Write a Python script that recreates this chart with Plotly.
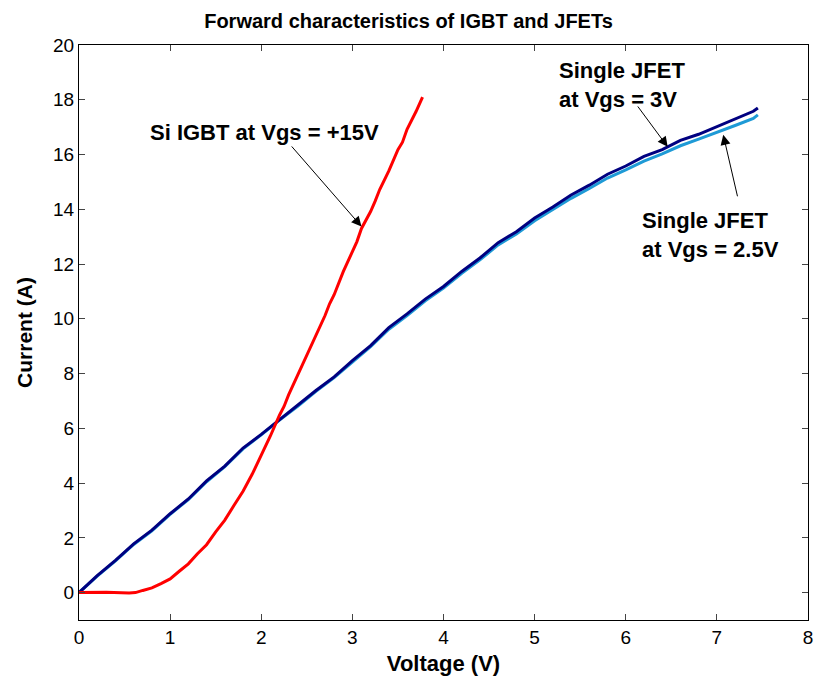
import plotly.graph_objects as go

# IGBT forward curve at Vgs = +15V
igbt_v = [0, 0.3, 0.55, 0.62, 0.7, 0.8, 0.9, 1.0, 1.1, 1.2, 1.3, 1.4, 1.5, 1.6, 1.7, 1.8,
          1.9, 2.0, 2.1, 2.2, 2.25, 2.3, 2.4, 2.45, 2.5, 2.6, 2.7, 2.75, 2.8, 2.9, 3.0,
          3.05, 3.1, 3.2, 3.25, 3.3, 3.4, 3.5, 3.55, 3.6, 3.7, 3.77]
igbt_i = [0, 0.01, -0.01, 0.0, 0.08, 0.17, 0.33, 0.5, 0.78, 1.05, 1.42, 1.75, 2.22, 2.65,
          3.18, 3.7, 4.32, 5.0, 5.72, 6.48, 6.8, 7.22, 7.95, 8.25, 8.68, 9.38, 10.12, 10.55,
          10.88, 11.72, 12.5, 12.82, 13.3, 13.92, 14.3, 14.72, 15.4, 16.18, 16.45, 16.92,
          17.58, 18.1]

# JFET forward curves
jfet_v = [0, 0.2, 0.4, 0.6, 0.8, 1.0, 1.2, 1.4, 1.6, 1.8, 2.0, 2.2, 2.4, 2.6, 2.8, 3.0,
          3.2, 3.4, 3.6, 3.8, 4.0, 4.2, 4.4, 4.6, 4.8, 5.0, 5.2, 5.4, 5.6, 5.8, 6.0,
          6.2, 6.4, 6.6, 6.8, 7.0, 7.2, 7.4, 7.45]
jfet3_i = [0, 0.62, 1.18, 1.78, 2.28, 2.88, 3.42, 4.08, 4.62, 5.28, 5.78, 6.32, 6.83,
           7.38, 7.88, 8.47, 9.02, 9.68, 10.18, 10.72, 11.18, 11.73, 12.22, 12.78, 13.18,
           13.68, 14.08, 14.52, 14.88, 15.28, 15.58, 15.93, 16.18, 16.52, 16.74, 17.02,
           17.32, 17.58, 17.7]
jfet25_i = [0, 0.6, 1.16, 1.76, 2.26, 2.86, 3.4, 4.05, 4.6, 5.25, 5.76, 6.3, 6.8, 7.35,
            7.85, 8.43, 8.98, 9.62, 10.12, 10.66, 11.12, 11.66, 12.15, 12.7, 13.1, 13.58,
            13.98, 14.4, 14.76, 15.14, 15.44, 15.76, 16.02, 16.32, 16.56, 16.8, 17.06,
            17.32, 17.45]

font = "Liberation Sans, Arial, Helvetica, sans-serif"

fig = go.Figure()
fig.add_trace(go.Scatter(x=jfet_v, y=jfet25_i, mode="lines",
                         line=dict(color="#1e9ad6", width=3)))
fig.add_trace(go.Scatter(x=jfet_v, y=jfet3_i, mode="lines",
                         line=dict(color="#000080", width=3)))
fig.add_trace(go.Scatter(x=igbt_v, y=igbt_i, mode="lines",
                         line=dict(color="#ff0000", width=3)))

lbl = dict(family=font, size=22, color="black")

# labels
fig.add_annotation(x=2.04, y=16.8, text="<b>Si IGBT at Vgs = +15V</b>",
                   showarrow=False, font=lbl, xanchor="center", yanchor="middle")
fig.add_annotation(x=5.25, y=18.54, text="<b>Single JFET<br>at Vgs = 3V</b>",
                   showarrow=False, font=lbl, xanchor="left", yanchor="middle", align="left")
fig.add_annotation(x=6.16, y=13.07, text="<b>Single JFET<br>at Vgs = 2.5V</b>",
                   showarrow=False, font=lbl, xanchor="left", yanchor="middle", align="left")

# arrows (tip at x,y; tail at ax,ay)
for tip, tail in [((3.10, 13.37), (2.32, 16.35)),
                  ((6.46, 16.28), (6.12, 17.81)),
                  ((7.07, 16.72), (7.23, 14.42))]:
    fig.add_annotation(x=tip[0], y=tip[1], ax=tail[0], ay=tail[1],
                       xref="x", yref="y", axref="x", ayref="y", text="",
                       showarrow=True, arrowhead=2, arrowsize=2, arrowwidth=1,
                       arrowcolor="black")

fig.update_layout(
    width=817, height=684,
    margin=dict(l=79, r=9, t=45, b=64),
    plot_bgcolor="white", paper_bgcolor="white",
    showlegend=False,
    title=dict(text="<b>Forward characteristics of IGBT and JFETs</b>",
               x=0.5, xanchor="center", y=0.97, yanchor="middle",
               font=dict(family=font, size=20, color="black")),
    font=dict(family=font, color="black"),
)
fig.update_xaxes(range=[0, 8], tickvals=list(range(0, 9)), ticks="inside", ticklen=6,
                 showline=True, linecolor="black", linewidth=1, mirror="ticks",
                 showgrid=False, zeroline=False, tickfont=dict(size=19), automargin=False,
                 title=dict(text="<b>Voltage (V)</b>", font=dict(size=22), standoff=8))
fig.update_yaxes(range=[-1, 20], tickvals=list(range(0, 21, 2)), ticks="inside", ticklen=6,
                 showline=True, linecolor="black", linewidth=1, mirror="ticks",
                 showgrid=False, zeroline=False, tickfont=dict(size=19), automargin=False,
                 title=dict(text="<b>Current (A)</b>", font=dict(size=21), standoff=14))

fig.write_html("out.html", config={"displayModeBar": False},
               post_script="document.body.style.margin='0';")
